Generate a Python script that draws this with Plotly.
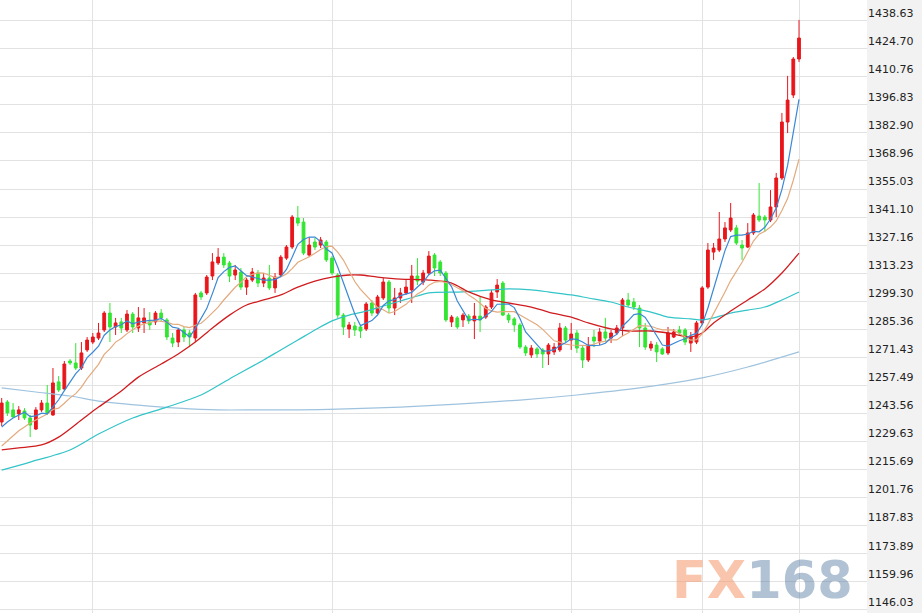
import plotly.graph_objects as go
import pandas as pd

# ---------------- data ----------------
opens = [1239.3, 1249.2, 1245.3, 1243.3, 1244.8, 1241.3, 1235.8, 1245.3, 1248.7, 1242.8,
         1259.2, 1255.7, 1269.6, 1268.6, 1266.1, 1275.1, 1279.0, 1281.0, 1285.0, 1293.4,
         1286.5, 1289.0, 1285.0, 1292.9, 1286.0, 1288.5, 1289.0, 1289.0, 1293.4, 1290.0,
         1281.0, 1279.0, 1285.0, 1283.5, 1281.0, 1303.4, 1303.4, 1311.8, 1318.3, 1321.2,
         1318.3, 1312.3, 1313.8, 1306.3, 1309.8, 1313.3, 1308.3, 1310.8, 1305.9, 1312.3,
         1320.7, 1326.2, 1340.6, 1338.6, 1322.2, 1328.7, 1327.2, 1328.7, 1320.7, 1312.3,
         1292.4, 1285.5, 1287.0, 1286.5, 1285.5, 1298.4, 1293.4, 1300.9, 1308.8, 1295.9,
         1300.9, 1303.4, 1304.9, 1311.8, 1308.8, 1313.3, 1322.2, 1318.8, 1313.3, 1289.0,
         1291.0, 1290.0, 1291.9, 1289.5, 1291.9, 1291.4, 1296.4, 1303.9, 1308.3, 1292.4,
         1290.5, 1287.5, 1276.5, 1272.6, 1275.6, 1275.1, 1273.1, 1274.1, 1275.1, 1286.0,
         1280.0, 1283.5, 1276.0, 1270.1, 1281.5, 1279.5, 1284.0, 1281.0, 1283.5, 1286.0,
         1299.9, 1298.9, 1295.9, 1286.0, 1276.0, 1277.5, 1275.6, 1273.6, 1281.5, 1285.0,
         1285.0, 1278.5, 1279.0, 1288.5, 1306.3, 1323.7, 1324.7, 1330.2, 1334.7, 1335.7,
         1327.2, 1326.2, 1333.2, 1341.6, 1341.1, 1339.6, 1346.1, 1360.5, 1388.3, 1401.7,
         1419.6]
highs = [1251.2, 1250.2, 1248.7, 1247.2, 1246.2, 1242.8, 1246.7, 1250.2, 1257.7, 1266.1,
         1262.1, 1269.6, 1270.6, 1278.5, 1279.0, 1281.5, 1283.5, 1288.5, 1294.4, 1298.4,
         1291.0, 1291.0, 1294.9, 1293.9, 1296.4, 1295.9, 1293.9, 1294.4, 1295.4, 1291.0,
         1283.5, 1286.0, 1286.5, 1285.0, 1303.4, 1304.4, 1312.3, 1323.2, 1325.7, 1323.2,
         1319.3, 1317.3, 1315.8, 1310.8, 1315.8, 1314.8, 1313.3, 1317.3, 1313.3, 1322.2,
         1327.2, 1342.1, 1346.6, 1340.6, 1331.2, 1330.7, 1331.2, 1329.7, 1321.7, 1313.3,
         1293.4, 1289.0, 1289.0, 1287.5, 1298.9, 1299.9, 1302.4, 1310.8, 1309.8, 1305.9,
         1305.9, 1309.8, 1317.3, 1320.7, 1314.8, 1324.2, 1323.2, 1319.8, 1314.3, 1292.4,
         1291.9, 1293.4, 1292.9, 1298.4, 1301.4, 1297.4, 1304.9, 1310.3, 1309.3, 1293.4,
         1291.4, 1288.5, 1277.5, 1277.5, 1276.5, 1276.0, 1278.5, 1278.5, 1288.5, 1287.0,
         1288.5, 1285.0, 1277.0, 1281.5, 1285.0, 1286.0, 1291.0, 1285.0, 1287.5, 1300.9,
         1303.4, 1300.9, 1297.4, 1288.5, 1279.5, 1279.0, 1276.5, 1286.5, 1285.5, 1287.0,
         1286.0, 1284.0, 1289.5, 1306.8, 1328.2, 1328.2, 1343.6, 1338.6, 1348.1, 1337.2,
         1329.7, 1338.1, 1343.1, 1358.0, 1342.1, 1354.5, 1363.0, 1392.8, 1411.2, 1420.6,
         1439.0]
lows = [1237.3, 1242.3, 1241.3, 1240.3, 1240.3, 1231.8, 1235.3, 1244.3, 1242.8, 1242.3,
        1254.2, 1255.2, 1267.6, 1265.1, 1265.1, 1274.1, 1278.0, 1280.0, 1284.0, 1279.0,
        1282.5, 1283.5, 1284.0, 1283.5, 1284.0, 1283.5, 1285.0, 1287.5, 1289.0, 1280.0,
        1276.5, 1276.5, 1279.0, 1276.5, 1279.0, 1299.9, 1302.4, 1309.8, 1317.3, 1315.8,
        1308.8, 1309.8, 1304.9, 1302.4, 1308.8, 1306.3, 1306.3, 1304.9, 1303.4, 1311.3,
        1319.8, 1325.2, 1336.6, 1322.2, 1321.2, 1324.7, 1325.7, 1318.8, 1312.3, 1291.0,
        1282.5, 1281.0, 1282.0, 1281.0, 1284.5, 1291.9, 1292.9, 1299.9, 1293.4, 1292.4,
        1298.4, 1302.4, 1298.4, 1307.3, 1307.3, 1312.3, 1311.8, 1311.8, 1289.0, 1286.5,
        1285.5, 1286.5, 1288.0, 1280.5, 1284.0, 1290.5, 1295.4, 1300.9, 1291.9, 1288.5,
        1284.0, 1275.6, 1272.1, 1271.1, 1271.1, 1266.1, 1267.6, 1272.6, 1274.1, 1279.0,
        1275.1, 1273.6, 1266.1, 1269.1, 1276.5, 1277.5, 1279.0, 1278.5, 1282.5, 1282.0,
        1296.4, 1294.9, 1276.5, 1275.1, 1274.6, 1269.1, 1272.6, 1272.6, 1281.0, 1282.0,
        1277.5, 1274.1, 1278.0, 1287.5, 1305.4, 1319.8, 1323.7, 1328.7, 1333.7, 1327.2,
        1319.8, 1325.7, 1332.2, 1338.6, 1333.7, 1338.6, 1341.1, 1359.5, 1382.8, 1400.2,
        1418.1]
closes = [1248.7, 1243.8, 1241.8, 1245.3, 1241.3, 1237.8, 1245.3, 1248.7, 1243.8, 1258.7,
          1255.2, 1268.1, 1268.6, 1266.1, 1273.6, 1280.0, 1281.5, 1283.5, 1293.4, 1286.5,
          1288.5, 1286.0, 1292.9, 1286.5, 1291.0, 1291.0, 1287.5, 1293.4, 1291.0, 1281.5,
          1278.5, 1285.0, 1281.5, 1281.5, 1302.4, 1301.4, 1311.3, 1318.8, 1321.2, 1317.3,
          1311.8, 1314.8, 1306.3, 1309.8, 1313.8, 1308.3, 1310.8, 1305.9, 1311.3, 1321.2,
          1326.2, 1341.1, 1338.1, 1323.2, 1327.2, 1326.2, 1329.7, 1319.8, 1313.3, 1292.4,
          1286.5, 1287.5, 1285.0, 1284.5, 1297.9, 1293.4, 1301.4, 1308.8, 1295.9, 1300.9,
          1303.4, 1306.3, 1311.8, 1309.3, 1313.3, 1321.7, 1315.8, 1313.3, 1290.0, 1291.4,
          1286.5, 1292.4, 1289.5, 1291.9, 1290.0, 1296.4, 1303.4, 1307.3, 1292.4, 1290.0,
          1287.5, 1276.5, 1273.6, 1276.0, 1273.1, 1273.1, 1277.5, 1276.5, 1286.0, 1280.0,
          1283.0, 1276.0, 1270.1, 1277.5, 1279.5, 1284.0, 1281.0, 1283.5, 1286.0, 1299.9,
          1297.4, 1296.4, 1286.0, 1276.5, 1278.0, 1274.1, 1273.1, 1283.5, 1284.0, 1283.5,
          1279.0, 1281.5, 1288.5, 1305.9, 1324.7, 1325.7, 1330.2, 1335.7, 1340.6, 1328.2,
          1325.7, 1333.2, 1342.1, 1339.6, 1339.6, 1346.1, 1360.5, 1388.3, 1399.2, 1419.6,
          1430.0]
bars = list(range(len(closes)))

# short averages: first values, the rest averaged from closes
ma5_head = [1236.8, 1239.3, 1241.3, 1242.8]
ma10_head = [1227.4, 1229.9, 1232.4, 1234.9, 1236.8, 1238.8, 1240.3, 1241.8, 1243.3]

# long averages at these bars
ma30_bars = [0, 3, 7, 10, 14, 17, 21, 24, 28, 31, 34, 37, 40, 43, 46, 49, 52, 55, 58, 61, 63, 66,
             70, 75, 79, 82, 86, 89, 93, 96, 100, 103, 107, 110, 114, 117, 121, 123, 125, 128,
             131, 134, 137, 140]
ma30_vals = [1225.4, 1226.4, 1227.9, 1231.8, 1240.3, 1246.7, 1254.7, 1261.6, 1268.1, 1273.1,
             1279.0, 1286.0, 1292.4, 1297.4, 1299.9, 1302.4, 1306.3, 1309.3, 1311.3, 1312.3,
             1312.3, 1311.3, 1310.3, 1309.8, 1308.3, 1303.9, 1299.9, 1298.4, 1296.4, 1293.9,
             1291.4, 1288.5, 1285.5, 1284.5, 1284.5, 1283.5, 1281.5, 1283.5, 1288.5, 1294.4,
             1299.9, 1305.4, 1313.3, 1323.2]
ma60_bars = [0, 5, 12, 17, 23, 29, 35, 40, 46, 49, 52, 55, 58, 61, 64, 67, 70, 73, 75, 81, 86,
             89, 93, 96, 100, 103, 107, 110, 114, 117, 121, 123, 125, 128, 131, 134, 137, 140]
ma60_vals = [1215.4, 1219.4, 1225.4, 1233.3, 1241.3, 1246.7, 1252.7, 1260.7, 1270.1, 1275.1,
             1280.0, 1285.0, 1289.5, 1292.4, 1294.4, 1296.9, 1299.4, 1301.9, 1303.4, 1303.9,
             1304.9, 1305.4, 1304.9, 1303.9, 1302.4, 1300.9, 1298.9, 1296.4, 1293.9, 1291.4,
             1290.5, 1290.0, 1291.0, 1293.4, 1294.9, 1296.4, 1299.9, 1303.9]
ma120_bars = [0, 6, 12, 17, 24, 31, 38, 45, 52, 59, 70, 80, 91, 101, 112, 123, 131, 140]
ma120_vals = [1256.2, 1254.2, 1252.2, 1249.7, 1247.7, 1246.2, 1245.3, 1245.3, 1245.3, 1245.7,
              1246.7, 1248.2, 1250.2, 1252.7, 1256.2, 1261.2, 1266.6, 1274.1]

price_labels = ["1146.03", "1159.96", "1173.89", "1187.83", "1201.76", "1215.69", "1229.63",
                "1243.56", "1257.49", "1271.43", "1285.36", "1299.30", "1313.23", "1327.16",
                "1341.10", "1355.03", "1368.96", "1382.90", "1396.83", "1410.76", "1424.70",
                "1438.63"]
period_marks = [16, 58, 100, 123, 140]

# ---------------- derived ----------------
cs = pd.Series(closes)
ma5 = cs.rolling(5).mean().tolist()
ma10 = cs.rolling(10).mean().tolist()
ma5[:len(ma5_head)] = ma5_head
ma10[:len(ma10_head)] = ma10_head

RED = "#e8171c"
GREEN = "#34e534"

fig = go.Figure()
fig.add_trace(go.Candlestick(
    x=bars, open=opens, high=highs, low=lows, close=closes,
    increasing=dict(line=dict(color=RED, width=1), fillcolor=RED),
    decreasing=dict(line=dict(color=GREEN, width=1), fillcolor=GREEN),
    whiskerwidth=0, showlegend=False, hoverinfo="skip"))

def add_line(x, y, color, width=1.2, shape="spline"):
    fig.add_trace(go.Scatter(x=x, y=y, mode="lines",
                             line=dict(color=color, width=width, shape=shape, smoothing=0.8),
                             showlegend=False, hoverinfo="skip"))

add_line(ma120_bars, ma120_vals, "#9fc3de")
add_line(ma60_bars, ma60_vals, "#33c4c8")
add_line(ma30_bars, ma30_vals, "#d01c1f", 1.3)
add_line(bars, ma10, "#e3aa7e", 1.2, "linear")
add_line(bars, ma5, "#3a88d6", 1.2, "linear")

# watermark
fig.add_annotation(
    x=670 / 867, y=1 - 580 / 613, xref="paper", yref="paper", xanchor="left", yanchor="middle",
    text="<span style='color:rgba(244,150,105,0.55)'>FX</span>"
         "<span style='color:rgba(80,120,160,0.45)'>168</span>",
    showarrow=False, font=dict(family="DejaVu Sans", size=51, weight="bold"))

fig.update_layout(
    width=922, height=613,
    margin=dict(l=0, r=55, t=0, b=0, pad=0),
    paper_bgcolor="#f2f2f2", plot_bgcolor="#ffffff",
    hovermode=False,
    xaxis=dict(range=[-0.2985, 151.94], rangeslider=dict(visible=False),
               tickvals=period_marks, showticklabels=False, ticks="",
               showgrid=True, gridcolor="#e2e2e2", gridwidth=1, zeroline=False,
               showline=False, fixedrange=True, automargin=False),
    yaxis=dict(side="right", range=[1144.42, 1448.91],
               tickvals=[float(s) for s in price_labels], ticktext=price_labels,
               ticks="", showgrid=True, gridcolor="#e2e2e2", gridwidth=1, zeroline=False,
               showline=False, ticklabelshift=-8,
               tickfont=dict(family="DejaVu Sans", size=11, color="#222222"),
               fixedrange=True, automargin=False),
)

fig.write_html("out.html", config={"displayModeBar": False},
               post_script="document.body.style.margin='0';")
